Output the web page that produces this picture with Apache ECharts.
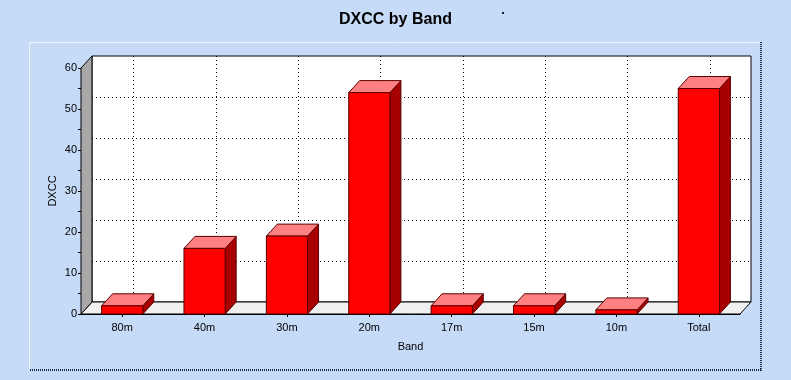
<!DOCTYPE html>
<html>
<head>
<meta charset="utf-8">
<script src="https://cdn.jsdelivr.net/npm/echarts@6/dist/echarts.min.js"></script>
<style>
html,body{margin:0;padding:0;background:#c6dbf7;}
#c{width:791px;height:380px;}
</style>
</head>
<body>
<div id="c"></div>
<script>
const categories = ['80m', '40m', '30m', '20m', '17m', '15m', '10m', 'Total'];
const dxcc = [2, 16, 19, 54, 2, 2, 1, 55];
const yGridValues = [10, 20, 30, 40, 50];

const DX = 11, DY = -12;
const FONT = 'Liberation Sans';

const chart = echarts.init(document.getElementById('c'));

function renderWalls(params, api) {
  const cs = params.coordSys;
  const x0 = cs.x, x1 = cs.x + cs.width, yT = cs.y, yB = cs.y + cs.height;
  const children = [];
  children.push({
    type: 'rect',
    shape: { x: x0 + DX, y: yT + DY, width: cs.width, height: cs.height },
    style: { fill: '#ffffff', stroke: '#000', lineWidth: 1 }
  });
  yGridValues.forEach(v => {
    const y = Math.round(api.coord([0, v])[1] + DY) + 0.5;
    children.push({
      type: 'line',
      shape: { x1: x0 + DX, y1: y, x2: x1 + DX, y2: y },
      style: { stroke: '#000', lineWidth: 1, lineDash: [1, 3] }
    });
  });
  categories.forEach((c, i) => {
    const x = Math.round(api.coord([i, 0])[0] + DX) + 0.5;
    children.push({
      type: 'line',
      shape: { x1: x, y1: yT + DY, x2: x, y2: yB + DY },
      style: { stroke: '#000', lineWidth: 1, lineDash: [1, 3] }
    });
  });
  children.push({
    type: 'polygon',
    shape: { points: [[x0, yB], [x1, yB], [x1 + DX, yB + DY], [x0 + DX, yB + DY]] },
    style: { fill: '#f0f0f0', stroke: '#000', lineWidth: 1 }
  });
  children.push({
    type: 'polygon',
    shape: { points: [[x0, yB], [x0, yT], [x0 + DX, yT + DY], [x0 + DX, yB + DY]] },
    style: { fill: '#a8a8a8', stroke: '#000', lineWidth: 1 }
  });
  return { type: 'group', children };
}

function renderBar(params, api) {
  const i = api.value(0), v = api.value(1);
  const top = api.coord([i, v]);
  const bot = api.coord([i, 0]);
  const bw = api.size([1, 0])[0] * 0.5;
  const x0 = top[0] - bw / 2, x1 = top[0] + bw / 2;
  const yt = top[1], yb = bot[1];
  const stroke = '#5a0000';
  return {
    type: 'group',
    children: [
      {
        type: 'polygon',
        shape: { points: [[x1, yt], [x1 + DX, yt + DY], [x1 + DX, yb + DY], [x1, yb]] },
        style: { fill: '#a80000', stroke, lineWidth: 1 }
      },
      {
        type: 'polygon',
        shape: { points: [[x0, yt], [x0 + DX, yt + DY], [x1 + DX, yt + DY], [x1, yt]] },
        style: { fill: '#ff8080', stroke, lineWidth: 1 }
      },
      {
        type: 'rect',
        shape: { x: x0, y: yt, width: bw, height: yb - yt },
        style: { fill: '#ff0000', stroke, lineWidth: 1 }
      }
    ]
  };
}

chart.setOption({
  backgroundColor: '#c6dbf7',
  animation: false,
  title: {
    text: 'DXCC by Band',
    left: 'center',
    top: 7,
    textStyle: { fontFamily: FONT, fontSize: 16, fontWeight: 'bold', color: '#000' }
  },
  graphic: [
    { type: 'line', shape: { x1: 29.5, y1: 42.5, x2: 760, y2: 42.5 }, style: { stroke: '#eef4fd', lineWidth: 1 } },
    { type: 'line', shape: { x1: 29.5, y1: 42.5, x2: 29.5, y2: 369 }, style: { stroke: '#eef4fd', lineWidth: 1 } },
    { type: 'line', shape: { x1: 761, y1: 42, x2: 761, y2: 371 }, style: { stroke: '#1c2a48', lineWidth: 2, lineDash: [1, 1] } },
    { type: 'line', shape: { x1: 30, y1: 370, x2: 762, y2: 370 }, style: { stroke: '#1c2a48', lineWidth: 2, lineDash: [1, 1] } },
    { type: 'rect', shape: { x: 502, y: 12, width: 2, height: 2 }, style: { fill: '#102040' } }
  ],
  grid: { left: 81, right: 51, top: 68, bottom: 66 },
  xAxis: {
    type: 'category',
    data: categories,
    name: 'Band',
    nameLocation: 'middle',
    nameGap: 27,
    nameMoveOverlap: false,
    nameTextStyle: { fontFamily: FONT, fontSize: 11, color: '#000' },
    axisLine: { show: true, lineStyle: { color: '#000', width: 1 } },
    axisTick: { show: true, alignWithLabel: true, length: 3, lineStyle: { color: '#000' } },
    axisLabel: { margin: 8, fontFamily: FONT, fontSize: 11, color: '#000' },
    splitLine: { show: false }
  },
  yAxis: {
    type: 'value',
    min: 0,
    max: 60,
    interval: 10,
    name: 'DXCC',
    nameLocation: 'middle',
    nameGap: 23,
    nameMoveOverlap: false,
    nameTextStyle: { fontFamily: FONT, fontSize: 11, color: '#000' },
    axisLine: { show: true, lineStyle: { color: '#000', width: 1 } },
    axisTick: { show: true, length: 3, lineStyle: { color: '#000' } },
    minorTick: { show: true, splitNumber: 2, length: 3, lineStyle: { color: '#000' } },
    axisLabel: { margin: 4, fontFamily: FONT, fontSize: 11, color: '#000' },
    splitLine: { show: false }
  },
  series: [
    {
      type: 'custom',
      renderItem: renderWalls,
      data: [[0, 0]],
      silent: true,
      z: 1
    },
    {
      type: 'custom',
      renderItem: renderBar,
      data: categories.map((c, i) => [i, dxcc[i]]),
      z: 3
    }
  ]
});
</script>
</body>
</html>
